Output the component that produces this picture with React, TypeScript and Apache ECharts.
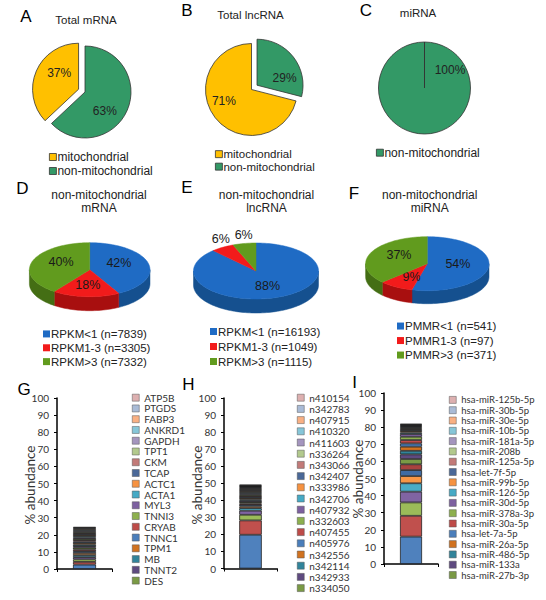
import React, { useEffect, useRef } from 'react';
import * as echarts from 'echarts';

// ---------- data ----------
const pieCategories = ['mitochondrial', 'non-mitochondrial'];
const totalMrna = [37, 63];
const totalLncrna = [71, 29];
const totalMirna = [0, 100];

const dNames = ['RPKM<1 (n=7839)', 'RPKM1-3 (n=3305)', 'RPKM>3 (n=7332)'];
const dValues = [42, 18, 40];
const eNames = ['RPKM<1 (n=16193)', 'RPKM1-3 (n=1049)', 'RPKM>3 (n=1115)'];
const eValues = [88, 6, 6];
const fNames = ['PMMR<1 (n=541)', 'PMMR1-3 (n=97)', 'PMMR>3 (n=371)'];
const fValues = [54, 9, 37];

// legend entries as shown (top to bottom); they are the upper 18 of 26 stacked series
const gLegend = ['ATP5B', 'PTGDS', 'FABP3', 'ANKRD1', 'GAPDH', 'TPT1', 'CKM', 'TCAP', 'ACTC1', 'ACTA1', 'MYL3', 'TNNI3', 'CRYAB', 'TNNC1', 'TPM1', 'MB', 'TNNT2', 'DES'];
const hLegend = ['n410154', 'n342783', 'n407915', 'n410320', 'n411603', 'n336264', 'n343066', 'n342407', 'n333986', 'n342706', 'n407932', 'n332603', 'n407455', 'n405976', 'n342556', 'n342114', 'n342933', 'n334050'];
const iLegend = ['hsa-miR-125b-5p', 'hsa-miR-30b-5p', 'hsa-miR-30e-5p', 'hsa-miR-10b-5p', 'hsa-miR-181a-5p', 'hsa-miR-208b', 'hsa-miR-125a-5p', 'hsa-let-7f-5p', 'hsa-miR-99b-5p', 'hsa-miR-126-5p', 'hsa-miR-30d-5p', 'hsa-miR-378a-3p', 'hsa-miR-30a-5p', 'hsa-let-7a-5p', 'hsa-miR-26a-5p', 'hsa-miR-486-5p', 'hsa-miR-133a', 'hsa-miR-27b-3p'];

// stacked segment values, bottom to top (% abundance)
const gValues = [2.55, 1.6, 1.5, 1.3, 1.2, 1.2, 1.1, 1.0, 1.0, 0.95, 0.9, 0.9, 0.85, 0.8, 0.8, 0.75, 0.75, 0.7, 0.7, 0.65, 0.65, 0.6, 0.6, 0.55, 0.5, 0.5];
const hValues = [19.8, 8.4, 3.3, 2.4, 1.5, 1.0, 0.9, 0.85, 0.8, 0.8, 0.75, 0.75, 0.72, 0.7, 0.68, 0.65, 0.62, 0.6, 0.58, 0.55, 0.52, 0.5, 0.48, 0.45, 0.42, 0.4];
const iValues = [16.0, 12.2, 7.8, 6.3, 4.9, 4.2, 3.5, 3.4, 3.1, 2.7, 2.1, 2.4, 1.9, 2.0, 1.9, 1.6, 0.9, 0.8, 0.7, 0.65, 0.6, 0.55, 0.5, 0.45, 0.4, 0.4];

const yAxisTitle = '% abundance';

// ---------- styles ----------
const FONT = '"Liberation Sans", Arial, sans-serif';
const BFONT = 'Lato, "Liberation Sans", sans-serif';
const YELLOW = '#FFC000';
const GREEN = '#339966';
const PIE3D_TOP = ['#1F6BC4', '#F21B1B', '#619B1E'];
const PIE3D_SIDE = ['#15508F', '#A80F0F', '#446E14'];
const PALETTE = [
  '#4F81BD', '#C0504D', '#9BBB59', '#8064A2', '#4BACC6', '#F79646',
  '#3F6BA3', '#A8423F', '#7A9A45', '#5E4A80', '#31849B', '#D1721F',
  '#4A7EBB', '#BE4B48', '#8DB04E', '#7D60A0', '#46AAC5', '#F69240',
  '#4A6898', '#C27A78', '#B2C98D', '#A495BE', '#86C6D8', '#F9B083',
  '#A9BBD6', '#DDB0B0',
];

function pie2d(values: number[], center: number[], explode: number | null, nudges: number[][], hideZero = false) {
  // order: non-mitochondrial first (clockwise from 12 o'clock), then mitochondrial
  const order = [1, 0];
  return {
    type: 'pie',
    center,
    radius: 46,
    startAngle: 90,
    clockwise: true,
    selectedMode: 'single',
    selectedOffset: 7,
    emphasis: { disabled: true },
    select: { itemStyle: { borderColor: '#333', borderWidth: 0.8 } },
    itemStyle: { borderColor: '#333', borderWidth: 0.8 },
    label: { show: true, position: 'inside', formatter: '{c}%', fontSize: 12, color: '#222', fontFamily: FONT },
    labelLine: { show: false },
    labelLayout: (p: any) => ({ dx: nudges[p.dataIndex][0], dy: nudges[p.dataIndex][1] }),
    data: order.map((k) => ({
      name: pieCategories[k],
      value: values[k],
      selected: explode === k,
      itemStyle: { color: k === 0 ? YELLOW : GREEN },
      label: hideZero && values[k] === 0 ? { show: false } : undefined,
    })),
  };
}

function pie3d(names: string[], values: number[], geo: { cx: number; cy: number; rx: number; ry: number; h: number }) {
  const total = values.reduce((a, b) => a + b, 0);
  return names.map((name, k) => ({
    type: 'custom',
    name,
    coordinateSystem: 'none',
    silent: true,
    itemStyle: { color: PIE3D_TOP[k] },
    data: [values[k]],
    renderItem: (params: any, api: any) => {
      const v = api.value(0);
      let before = 0;
      for (let j = 0; j < k; j++) before += values[j];
      const a0 = (before / total) * 360;
      const a1 = ((before + v) / total) * 360;
      const pt = (deg: number, dy = 0) => {
        const r = (deg * Math.PI) / 180;
        return [geo.cx + geo.rx * Math.sin(r), geo.cy - geo.ry * Math.cos(r) + dy];
      };
      const children: any[] = [];
      const s = Math.max(a0, 90);
      const e = Math.min(a1, 270);
      if (e > s) {
        const top: number[][] = [];
        const bot: number[][] = [];
        for (let d = s; d < e; d += 2) {
          top.push(pt(d));
          bot.push(pt(d, geo.h));
        }
        top.push(pt(e));
        bot.push(pt(e, geo.h));
        children.push({
          type: 'polygon',
          shape: { points: top.concat(bot.reverse()) },
          style: { fill: PIE3D_SIDE[k], stroke: PIE3D_SIDE[k], lineWidth: 0.5 },
        });
      }
      const face: number[][] = [[geo.cx, geo.cy]];
      for (let d = a0; d < a1; d += 2) face.push(pt(d));
      face.push(pt(a1));
      children.push({
        type: 'polygon',
        shape: { points: face },
        style: { fill: PIE3D_TOP[k], stroke: PIE3D_TOP[k], lineWidth: 0.5 },
      });
      const mid = (((a0 + a1) / 2) * Math.PI) / 180;
      let lx: number;
      let ly: number;
      if (v / total < 0.08) {
        lx = geo.cx + geo.rx * 1.05 * Math.sin(mid);
        ly = geo.cy - geo.ry * Math.cos(mid) - 8;
      } else {
        lx = geo.cx + geo.rx * 0.5 * Math.sin(mid);
        ly = geo.cy - geo.ry * 0.65 * Math.cos(mid) - 2;
      }
      children.push({
        type: 'text',
        style: { text: v + '%', x: lx, y: ly, align: 'center', verticalAlign: 'middle', fontSize: 12.5, fontFamily: FONT, fill: '#1a1a1a' },
      });
      return { type: 'group', children };
    },
  }));
}

function barStack(values: number[], legend: string[], idx: number, barWidth: number) {
  const n = values.length;
  return values.map((v, i) => {
    const visible = i >= n - legend.length;
    return {
      type: 'bar',
      name: visible ? legend[n - 1 - i] : undefined,
      stack: 'stack' + idx,
      xAxisIndex: idx,
      yAxisIndex: idx,
      barWidth,
      silent: true,
      data: [v],
      itemStyle: { color: PALETTE[i], borderColor: '#1a1a1a', borderWidth: 0.75 },
    };
  });
}

function pieLegend(data: string[], left: number, top: number, lineHeight: number, fontSize: number, border: boolean) {
  return {
    data,
    orient: 'vertical',
    left,
    top,
    padding: 0,
    itemGap: 0,
    itemWidth: 7,
    itemHeight: 7,
    icon: 'rect',
    selectedMode: false,
    itemStyle: border ? { borderColor: '#333', borderWidth: 0.8 } : { borderWidth: 0 },
    textStyle: { fontSize, lineHeight, color: '#222', fontFamily: FONT, padding: [0, 0, 0, -4] },
  };
}

function barLegend(data: string[], left: number, top: number, lineHeight: number, fontSize: number) {
  return {
    data,
    orient: 'vertical',
    left,
    top,
    padding: 0,
    itemGap: 0,
    itemWidth: 7,
    itemHeight: 7,
    icon: 'rect',
    selectedMode: false,
    itemStyle: { borderColor: '#555', borderWidth: 0.5 },
    textStyle: { fontSize, lineHeight, color: '#333', fontFamily: BFONT },
  };
}

function axes(idx: number) {
  return {
    x: {
      gridIndex: idx,
      type: 'category',
      data: [''],
      axisLine: { lineStyle: { color: '#000', width: 1.5 } },
      axisTick: { show: true, length: 3, lineStyle: { color: '#000' } },
      axisLabel: { show: false },
    },
    y: {
      gridIndex: idx,
      type: 'value',
      min: 0,
      max: 100,
      interval: 10,
      axisLine: { show: true, lineStyle: { color: '#000', width: 1.5 } },
      axisTick: { show: true, length: 3, lineStyle: { color: '#000' } },
      splitLine: { show: false },
      axisLabel: { fontSize: 10, color: '#333', margin: 8, fontFamily: BFONT },
    },
  };
}

function txt(text: string, x: number, y: number, fontSize: number, fill = '#222', lineHeight?: number, font = FONT, rotation = 0) {
  return {
    type: 'text',
    x,
    y,
    rotation,
    silent: true,
    style: { text, fontSize, fontFamily: font, fill, align: 'center', verticalAlign: 'middle', lineHeight },
  };
}

export default function App() {
  const ref = useRef<HTMLDivElement>(null);
  useEffect(() => {
    if (!ref.current) return;
    const chart = echarts.init(ref.current, null, { renderer: 'svg' });
    const axG = axes(0);
    const axH = axes(1);
    const axI = axes(2);
    const option: any = {
      animation: false,
      graphic: [
        txt('A', 26, 16.5, 17, '#000'),
        txt('B', 187, 10, 17, '#000'),
        txt('C', 366, 10, 17, '#000'),
        txt('D', 22.5, 188, 17, '#000'),
        txt('E', 187, 187, 17, '#000'),
        txt('F', 354, 193, 17, '#000'),
        txt('G', 24, 389, 17, '#000'),
        txt('H', 188.5, 384, 17, '#000'),
        txt('I', 354.5, 382, 17, '#000'),
        txt('Total mRNA', 86, 20, 11.5),
        txt('Total lncRNA', 250.5, 15, 11.5),
        txt('miRNA', 418, 13.3, 11.5),
        txt('non-mitochondrial\nmRNA', 99, 201.5, 12, '#222', 13.3),
        txt('non-mitochondrial\nlncRNA', 266.5, 201.5, 12, '#222', 13.3),
        txt('non-mitochondrial\nmiRNA', 429.7, 201.5, 12, '#222', 13.3),
        txt(yAxisTitle, 29.5, 485, 13.5, '#333', undefined, BFONT, Math.PI / 2),
        txt(yAxisTitle, 197, 485, 13.5, '#333', undefined, BFONT, Math.PI / 2),
        txt(yAxisTitle, 358, 479, 13.5, '#333', undefined, BFONT, Math.PI / 2),
      ],
      legend: [
        pieLegend(pieCategories, 49, 150, 14, 12, true),
        pieLegend(pieCategories, 215, 147.9, 12.5, 11.5, true),
        pieLegend([pieCategories[1]], 376, 145.7, 14, 12, true),
        pieLegend(dNames, 43, 327, 13.85, 11.5, false),
        pieLegend(eNames, 210, 324, 15, 11.5, false),
        pieLegend(fNames, 397, 318.8, 14.5, 11.5, false),
        barLegend(gLegend, 132, 392.3, 10.76, 10),
        barLegend(hLegend, 297, 392.1, 11.2, 10),
        barLegend(iLegend, 449, 394.75, 10.3, 9.5),
      ],
      grid: [
        { left: 57, top: 398, width: 55, height: 171 },
        { left: 224, top: 398, width: 53, height: 170.5 },
        { left: 384, top: 393, width: 54, height: 171 },
      ],
      xAxis: [axG.x, axH.x, axI.x],
      yAxis: [axG.y, axH.y, axI.y],
      series: [
        pie2d(totalMrna, [85, 92], 0, [[-4, 9], [4.5, -6]]),
        pie2d(totalLncrna, [251.5, 89.5], 1, [[7, 9], [-7, -4]]),
        pie2d(totalMirna, [424.5, 88], null, [[25.5, -44], [0, 0]], true),
        ...pie3d(dNames, dValues, { cx: 89.7, cy: 269.7, rx: 60.3, ry: 27, h: 14 }),
        ...pie3d(eNames, eValues, { cx: 256, cy: 271, rx: 62.5, ry: 28, h: 14 }),
        ...pie3d(fNames, fValues, { cx: 427.3, cy: 263.7, rx: 61.7, ry: 27, h: 13 }),
        ...barStack(gValues, gLegend, 0, 23),
        ...barStack(hValues, hLegend, 1, 22.5),
        ...barStack(iValues, iLegend, 2, 22),
      ],
    };
    chart.setOption(option);
    return () => chart.dispose();
  }, []);
  return <div ref={ref} style={{ position: 'absolute', left: 0, top: 0, width: 546, height: 600 }} />;
}
